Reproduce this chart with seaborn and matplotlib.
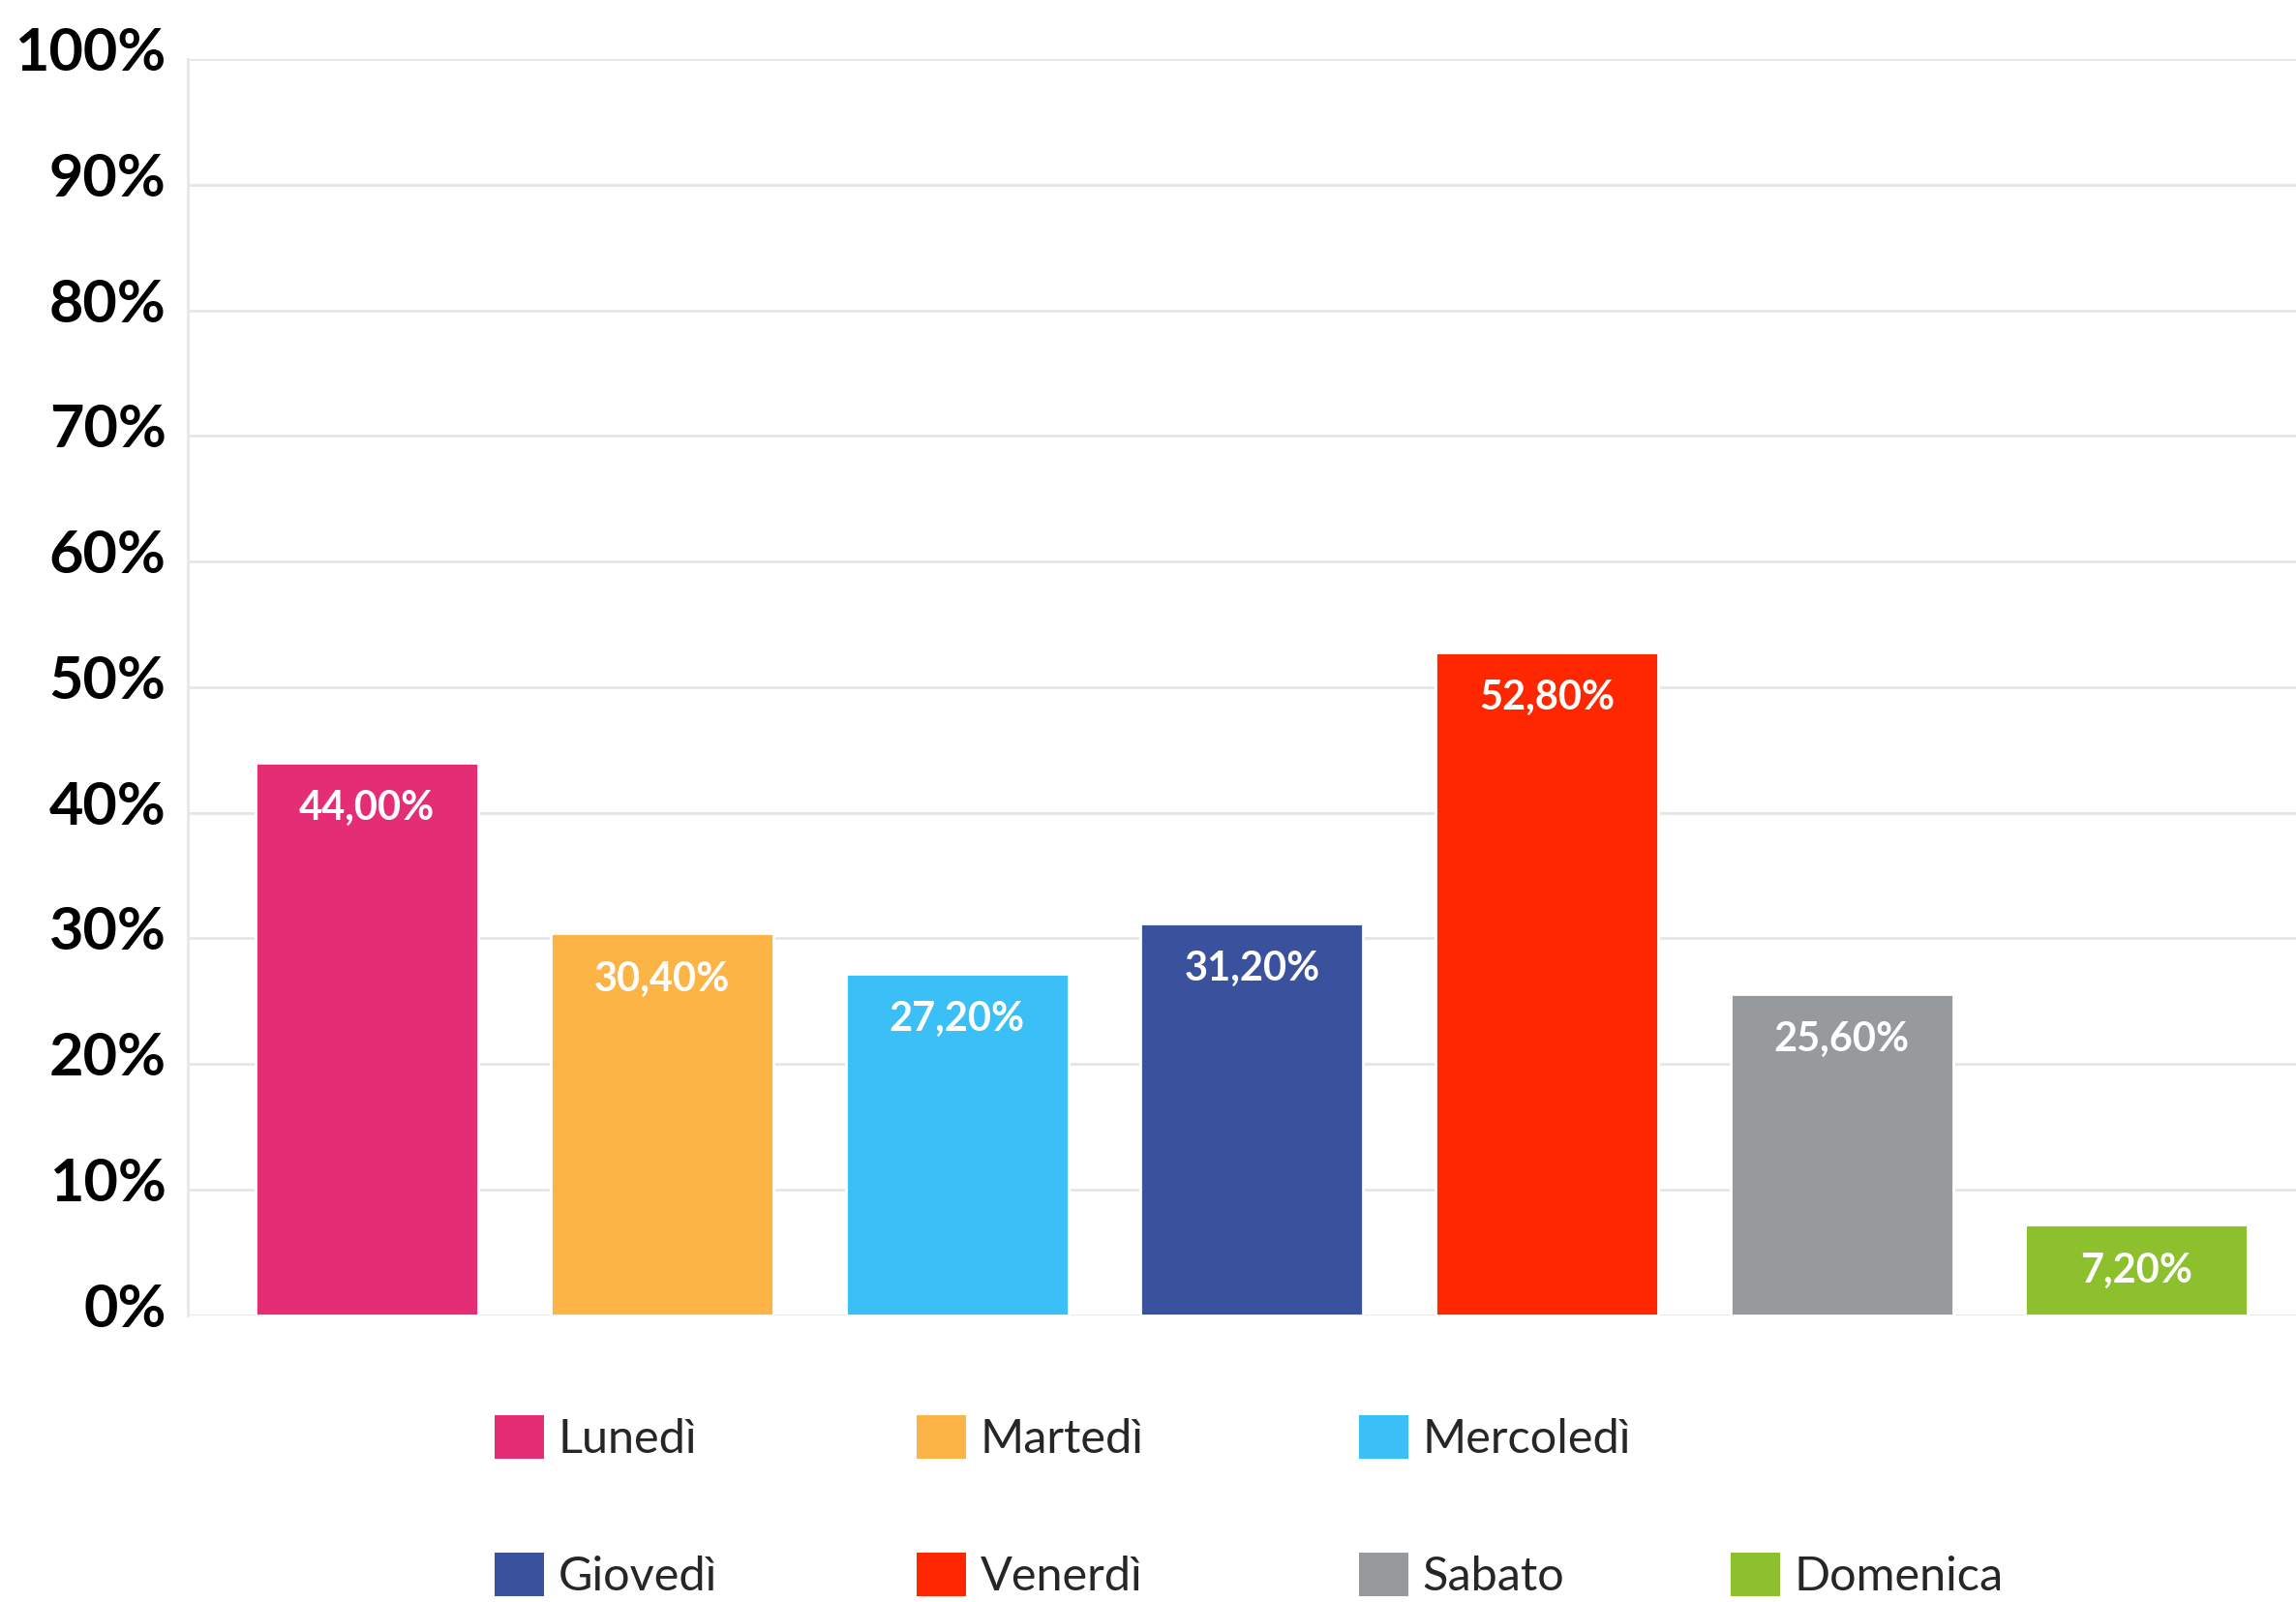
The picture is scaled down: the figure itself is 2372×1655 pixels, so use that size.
import numpy as np
import pandas as pd
import matplotlib
matplotlib.use("Agg")
import matplotlib.pyplot as plt
import seaborn as sns
from matplotlib.patches import Patch
from matplotlib.transforms import ScaledTranslation

# dati
giorni = ["Lunedì", "Martedì", "Mercoledì", "Giovedì", "Venerdì", "Sabato", "Domenica"]
valori = [44.0, 30.4, 27.2, 31.2, 52.8, 25.6, 7.2]
colori = ["#E52D75", "#FDB447", "#3BBFF7", "#3A529E", "#FF2700", "#979A9C", "#8CC02C"]
tick_y = [0, 10, 20, 30, 40, 50, 60, 70, 80, 90, 100]

sns.set_theme(style="white")
plt.rcParams['font.family'] = ['Lato', 'DejaVu Sans']

df = pd.DataFrame({"giorno": giorni, "valore": valori})

fig = plt.figure(figsize=(11.86, 8.275), dpi=200)
ax = fig.add_axes([0.0818, 0.179, 0.9182, 0.784])

sns.barplot(data=df, x="giorno", y="valore", hue="giorno", palette=colori,
            width=0.755, saturation=1, legend=False, ax=ax)

ax.set_ylim(0, 100)
ax.set_xlim(-0.608, 6.54)
ax.set_yticks(tick_y)
ax.set_yticklabels([f"{t}%" for t in tick_y], fontsize=22, fontweight="bold", color="black")
ax.set_xticks([])
ax.set_xlabel("")
ax.set_ylabel("")
ax.tick_params(axis="y", length=0, pad=8)
# etichette asse y leggermente sopra la griglia
for lbl in ax.get_yticklabels():
    lbl.set_transform(lbl.get_transform() + ScaledTranslation(0, 4 / 72, fig.dpi_scale_trans))
ax.yaxis.grid(True, color="#e6e6e6", linewidth=1.0)
ax.set_axisbelow(True)
for s in ["top", "right", "bottom"]:
    ax.spines[s].set_visible(False)
ax.spines["left"].set_color("#e6e6e6")
ax.spines["left"].set_linewidth(1.0)

# etichette sulle barre
for i, v in enumerate(valori):
    etichetta = f"{v:.2f}".replace(".", ",") + "%"
    ax.annotate(etichetta, (i, v), xytext=(0, -17), textcoords="offset points",
                ha="center", va="center", color="white", fontsize=15, fontweight="bold")

# legenda: una colonna alla volta, come nell'originale
handles = [Patch(facecolor=c, edgecolor="none") for c in colori]
vuoto = Patch(facecolor="none", edgecolor="none")
colonne = [[0, 3], [1, 4], [2, 5], [None, 6]]
x_colonne = [0.2155, 0.3993, 0.5919, 0.7538]
for col, xc in zip(colonne, x_colonne):
    h_leg = [vuoto if k is None else handles[k] for k in col]
    l_leg = ["" if k is None else giorni[k] for k in col]
    fig.legend(h_leg, l_leg, ncol=1, loc="upper left", bbox_to_anchor=(xc, 0.1166),
               frameon=False, fontsize=17.5, borderpad=0, borderaxespad=0,
               handlelength=1.05, handleheight=1.05, handletextpad=0.3,
               labelspacing=1.95)

fig.savefig("out.png", dpi=200)
